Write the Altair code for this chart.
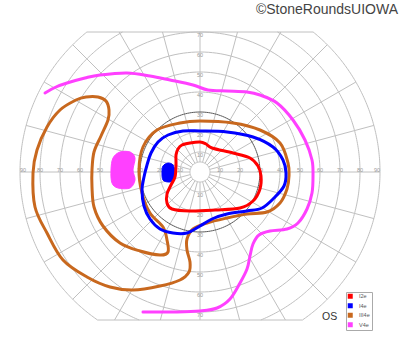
import numpy as np
import pandas as pd
import altair as alt

# ---------------- data (degrees of visual field) ----------------
# x: horizontal eccentricity (+ right), y: vertical eccentricity (+ up)
I2E_X = [-9, -5, 0, 3, 6, 16.5, 25, 29, 30.5, 30, 26.5, 20, 7.5, -5, -14, -16.5, -16.5, -14.5, -12.5, -12, -12, -11]
I2E_Y = [13.5, 14.5, 15, 14, 12, 9.5, 7, 3, -2, -8.5, -14.5, -18, -19, -19.5, -18.5, -15.5, -11, -6.5, -2.5, 3.5, 8.5, 11.5]

I4E_X = [0, 13.5, 26.5, 36.5, 41.5, 43, 42, 37, 31, 23.5, 13.5, 6, 0, -6.5, -13.5, -20, -25, -28, -29, -28, -26.5, -24.5, -21, -16, -8.5]
I4E_Y = [20.5, 20, 17.5, 12.5, 6, -0.5, -7, -13, -18, -19.5, -21, -23.5, -27, -30.5, -30.5, -28.5, -23.5, -17, -9, -2.5, 3.5, 9.5, 15, 18.5, 20.5]

I4E_SCOTOMA_X = [-16, -13.5, -12.5, -13, -15.5, -18.5, -19, -18.5]
I4E_SCOTOMA_Y = [4.5, 3.5, 0, -4, -5, -4, 0, 3]

III4E_X = [-57, -51, -47, -45.5, -46, -49.5, -53, -54, -54, -53, -48.5, -40, -30, -20, -16, -16.5, -18.5, -25, -29,
           -30.5, -28.5, -21.5, -10, 0, 16.5, 30, 40, 44, 44.5, 43.5, 40, 33.5, 23.5, 13.5, 3.5, -3.5, -6.5, -6.5,
           -5, -5.5, -10, -20, -33.5, -45, -56.5, -68.5, -76.5, -82.5, -83.5, -81.5, -76.5, -70, -62]
III4E_Y = [37.5, 37.5, 35.5, 31, 26, 18, 10, 1, -7.5, -17.5, -27, -35.5, -39.5, -41.5, -40, -34, -27.5, -20.5, -10.5,
           1, 12.5, 21, 24.5, 25.5, 24.5, 21, 14.5, 4.5, -2, -8.5, -15.5, -20, -21, -23, -25.5, -28.5, -33.5, -39,
           -45, -50, -54, -57, -59, -57.5, -52.5, -44, -30.5, -17.5, -0.5, 11, 22.5, 31, 36]

V4E_X = [-77.5, -72, -66.5, -57.5, -50, -36.5, -25, -15, -3.5, 4, 13.5, 23.5, 30, 38.5, 46.5, 52.5, 56, 56.5, 56,
         53.5, 49, 43.5, 35, 29.5, 26.5, 25, 23.5, 20, 15, 8.5, 0, -11.5, -28.5]
V4E_Y = [39.5, 42.5, 44.5, 47, 48.5, 49.5, 48, 46, 43.5, 41, 40.5, 40, 38.5, 34.5, 26, 16, 6, -2, -10.5,
         -18.5, -25.5, -28.5, -29.5, -31.5, -36, -42, -48.5, -55.5, -63.5, -68, -69.5, -70, -70]

V4E_SCOTOMA_X = [-40, -35, -32.5, -33.5, -32.5, -35, -41, -44, -44.5, -43.5]
V4E_SCOTOMA_Y = [10, 10, 7, 1, -4, -8, -8, -5.5, 1, 7]

STIMULI = ["I2e", "I4e", "III4e", "V4e"]
COLORS = ["#ff0000", "#0000ff", "#c8681e", "#ff40ff"]

RINGS = [5, 10, 20, 30, 40, 50, 60, 70, 80, 90]
LABEL_RADII = [10, 20, 30, 40, 50, 60, 70, 80, 90]
VERT_LABEL_RADII = [10, 20, 30, 40, 50, 60, 70]
MERIDIAN_STEP = 15
TOP_LIMIT = 70
BOTTOM_LIMIT = 74
OUTER = 90
EYE = "OS"
CREDIT = "©StoneRoundsUIOWA"

GRID = "#c0c0c0"

xs = alt.Scale(domain=[-100, 100], nice=False, zero=False)
ys = alt.Scale(domain=[-90, 86], nice=False, zero=False)


def X(f="x"):
    return alt.X(f"{f}:Q", scale=xs, axis=None)


def Y(f="y"):
    return alt.Y(f"{f}:Q", scale=ys, axis=None)


# ---------------- grid geometry ----------------
rows = []
seg = 0
for r in RINGS:
    if r > TOP_LIMIT and r > BOTTOM_LIMIT:
        t = np.degrees(np.arcsin(TOP_LIMIT / r))
        b = np.degrees(np.arcsin(BOTTOM_LIMIT / r))
        intervals = [(180 - t, 180 + b), (360 - b, 360 + t)]
    elif r > TOP_LIMIT:
        t = np.degrees(np.arcsin(TOP_LIMIT / r))
        intervals = [(180 - t, 360 + t)]
    else:
        intervals = [(0, 360)]
    for a0, a1 in intervals:
        th = np.radians(np.linspace(a0, a1, 181))
        for i, tt in enumerate(th):
            rows.append({"seg": seg, "i": i, "x": r * np.cos(tt), "y": r * np.sin(tt), "dark": r == 30})
        seg += 1

for a in range(0, 360, MERIDIAN_STEP):
    t = np.radians(a)
    s = np.sin(t)
    rend = OUTER
    if s > 1e-9:
        rend = min(OUTER, TOP_LIMIT / s)
    elif s < -1e-9:
        rend = min(OUTER, BOTTOM_LIMIT / -s)
    for i, rr in enumerate([RINGS[0], rend]):
        rows.append({"seg": seg, "i": i, "x": rr * np.cos(t), "y": rr * np.sin(t), "dark": False})
    seg += 1

for lim in (TOP_LIMIT, -BOTTOM_LIMIT):
    half = np.sqrt(OUTER ** 2 - lim ** 2)
    for i, xx in enumerate([-half, half]):
        rows.append({"seg": seg, "i": i, "x": xx, "y": lim, "dark": False})
    seg += 1

grid_df = pd.DataFrame(rows)

grid = alt.Chart(grid_df[~grid_df.dark]).mark_line(color=GRID, strokeWidth=1).encode(
    x=X(), y=Y(), detail="seg:N", order="i:Q")
dark = alt.Chart(grid_df[grid_df.dark]).mark_line(color="#5a5a5a", strokeWidth=1).encode(
    x=X(), y=Y(), detail="seg:N", order="i:Q")

# tick labels
lab = []
for r in LABEL_RADII:
    for sgn in (-1, 1):
        lab.append({"x": sgn * min(r, 88.5), "y": 1.2, "t": str(r)})
for r in VERT_LABEL_RADII:
    lab.append({"x": 0, "y": r - 1.6, "t": str(r)})
    lab.append({"x": 0, "y": -r - 1.6, "t": str(r)})
labels = alt.Chart(pd.DataFrame(lab)).mark_text(
    fontSize=5.5, color="#9a9a9a", font="Liberation Sans", baseline="middle", align="center").encode(
    x=X(), y=Y(), text="t:N")


# ---------------- isopters ----------------
def path_df(xv, yv):
    return pd.DataFrame({"x": xv, "y": yv, "i": range(len(xv))})


def iso(xv, yv, color, closed=True, filled=False):
    kw = dict(color=color, strokeWidth=3, strokeCap="round", strokeJoin="round",
              interpolate="cardinal-closed" if closed else "cardinal")
    if filled:
        kw.update(fill=color, strokeWidth=1)
    return alt.Chart(path_df(xv, yv)).mark_line(**kw).encode(x=X(), y=Y(), order="i:Q")


iso_layers = [
    iso(III4E_X, III4E_Y, COLORS[2]),
    iso(V4E_X, V4E_Y, COLORS[3], closed=False),
    iso(V4E_SCOTOMA_X, V4E_SCOTOMA_Y, COLORS[3], filled=True),
    iso(I4E_X, I4E_Y, COLORS[1]),
    iso(I4E_SCOTOMA_X, I4E_SCOTOMA_Y, COLORS[1], filled=True),
    iso(I2E_X, I2E_Y, COLORS[0]),
]

# legend carrier (points lie outside the scale domain and are clipped)
leg_df = pd.DataFrame({"stim": STIMULI, "x": [-500] * 4, "y": [-500] * 4})
legend = alt.Chart(leg_df).mark_square(clip=True, filled=True, opacity=1).encode(
    x=X(), y=Y(),
    color=alt.Color("stim:N", scale=alt.Scale(domain=STIMULI, range=COLORS),
                    legend=alt.Legend(title=None, orient="none", legendX=346, legendY=292,
                                      symbolType="square", symbolSize=25, symbolStrokeWidth=0,
                                      labelFontSize=5.5, labelColor="#555555", labelFont="Liberation Sans",
                                      labelOffset=6, rowPadding=2.5, padding=1.5,
                                      strokeColor="#aaaaaa", fillColor="white")))

credit = alt.Chart(pd.DataFrame({"t": [CREDIT]})).mark_text(
    fontSize=14, font="Liberation Sans", color="#444444", align="right", baseline="alphabetic").encode(
    x=alt.value(398), y=alt.value(13.5), text="t:N")
eye = alt.Chart(pd.DataFrame({"t": [EYE]})).mark_text(
    fontSize=10.5, font="Liberation Sans", color="#333333", align="left", baseline="alphabetic").encode(
    x=alt.value(322), y=alt.value(320), text="t:N")

chart = alt.layer(grid, dark, labels, *iso_layers, legend, credit, eye).properties(
    width=400, height=352, padding=0, autosize=alt.AutoSizeParams(type="none")
).configure_view(stroke=None)

chart.save("out.html", embed_options={"renderer": "svg", "actions": False})
